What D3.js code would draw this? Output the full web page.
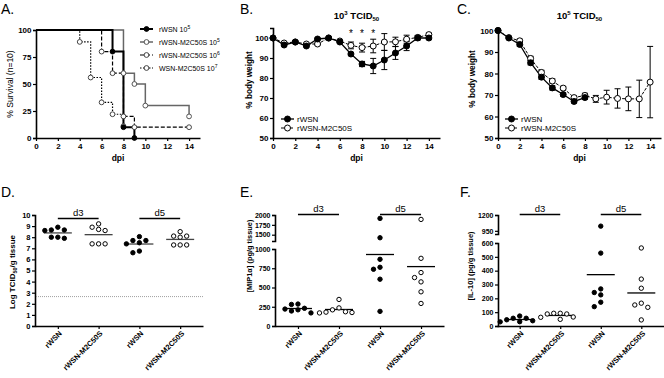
<!DOCTYPE html>
<html><head><meta charset="utf-8">
<script src="https://cdn.jsdelivr.net/npm/d3@7"></script>
<style>
body{margin:0;background:#fff;}
svg{display:block;font-family:"Liberation Sans",Arial,sans-serif;}
</style></head><body>
<svg id="c" width="664" height="378"></svg>
<script>
// ---------- Panel A: survival ----------
const survDays_rWSN5 = [0, 7, 8, 9];
const surv_rWSN5 = [100, 80, 10, 0];
const survDays_M2_5 = [0, 8, 9, 10, 14];
const surv_M2_5 = [100, 60, 50, 30, 20];
const survDays_M2_6 = [0, 6, 7, 8, 9, 14];
const surv_M2_6 = [100, 80, 60, 20, 10, 10];
const survDays_M2_7 = [0, 4, 5, 6, 7, 8];
const surv_M2_7 = [100, 89, 56, 33, 22, 11];
const survNames = ["rWSN 10", "rWSN-M2C50S 10", "rWSN-M2C50S 10", "WSN-M2C50S 10"];
const survExps = ["5", "5", "6", "7"];
const survYTicks = [0, 25, 50, 75, 100];
const dpiTicks = [0, 2, 4, 6, 8, 10, 12, 14];

// ---------- Panel B: weight 10^3 ----------
const daysB = [0,1,2,3,4,5,6,7,8,9,10,11,12,13,14];
const wB_rWSN = [100, 96.5, 98, 96, 99.5, 100, 98, 92, 87, 86, 89, 92.5, 96, 100, 100];
const eB_rWSN = [0, 0.5, 0.5, 0.5, 0.5, 0, 0.5, 0.8, 1.3, 3.8, 4.8, 3.2, 2.3, 1, 0.8];
const wB_M2 = [100, 97.5, 98, 97, 97, 100, 98.5, 96.3, 95.2, 96, 98, 98.1, 99.4, 100.3, 101.7];
const eB_M2 = [0, 0.5, 0.5, 0.5, 0.5, 0.3, 0.5, 1.7, 2.2, 3.4, 4.2, 2.3, 2, 1, 0.8];
const starDaysB = [7, 8, 9];
const weightTicksB = [50, 60, 70, 80, 90, 100];

// ---------- Panel C: weight 10^5 ----------
const daysC_rWSN = [0,1,2,3,4,5,6,7,8];
const wC_rWSN = [100, 96.5, 93.5, 85, 78.3, 73.3, 70.2, 67, 68.8];
const eC_rWSN = [0, 0.5, 0.8, 1, 1, 1, 0.8, 0.7, 0.8];
const daysC_M2 = [0,1,2,3,4,5,6,7,8,9,10,11,12,13,14];
const wC_M2 = [100, 96.7, 95.2, 87, 80.5, 76.5, 73.2, 68.8, 69.8, 68.2, 69, 68.4, 68.2, 68.2, 76];
const eC_M2 = [0, 0.5, 0.8, 1, 1, 1, 0.8, 0.8, 1, 1.6, 3.2, 4.5, 5.5, 8.7, 16.6];
const weightTicksC = [50, 60, 70, 80, 90, 100];
const legendNames = ["rWSN", "rWSN-M2C50S"];

// ---------- Panels D-F: scatter ----------
const groupLabels = ["rWSN", "rWSN-M2C50S", "rWSN", "rWSN-M2C50S"];
const dayLabels = ["d3", "d5"];

const D_rWSN_d3 = [8.9, 8.65, 8.6, 8.65, 8.0, 7.9, 8.0];
const D_M2_d3 = [9.2, 8.9, 8.6, 8.7, 7.4, 7.4, 7.4];
const D_rWSN_d5 = [8.05, 7.7, 7.5, 7.4, 7.7, 6.6, 6.75];
const D_M2_d5 = [8.5, 8.1, 8.0, 8.1, 7.3, 7.3, 7.3];
const D_limit = 2.65;
const D_ticks = [0,1,2,3,4,5,6,7,8,9,10];

const E_rWSN_d3 = [285, 280, 230, 220, 210, 195, 170];
const E_M2_d3 = [345, 235, 210, 185, 180, 175, 170];
const E_rWSN_d5 = [1914, 1422, 866, 763, 737, 608, 190];
const E_M2_d5 = [1888, 879, 694, 629, 573, 444, 293];
const E_ticksLo = [0, 250, 500, 750, 1000];
const E_ticksHi = [1500, 1750, 2000];

const F_rWSN_d3 = [72, 56, 38, 31, 30, 56, 45];
const F_M2_d3 = [92, 87, 63, 87, 92, 48, 65];
const F_rWSN_d5 = [1024, 527, 268, 242, 225, 172, 140];
const F_M2_d5 = [564, 339, 273, 165, 152, 135, 44];
const F_ticksLo = [0, 100, 200, 300, 400, 500, 600];
const F_ticksHi = [950, 1200];

const FONT = '"Liberation Sans", Arial, sans-serif';
const svg = d3.select('#c');
const fmt = d3.format('d');

function styleAxis(g, fs, bold) {
  g.attr('font-family', FONT).attr('font-size', fs);
  g.selectAll('.domain').attr('stroke', '#000').attr('stroke-width', 1.6);
  g.selectAll('.tick line').attr('stroke', '#000').attr('stroke-width', 1.2);
  g.selectAll('.tick text').attr('fill', '#000').attr('font-weight', bold ? 'bold' : 'normal');
}
function yAxis(scale, x, ticks, fs) {
  const g = svg.append('g').attr('transform', `translate(${x},0)`)
    .call(d3.axisLeft(scale).tickValues(ticks).tickFormat(fmt).tickSize(3).tickPadding(1.5));
  styleAxis(g, fs, true);
  return g;
}
function xAxis(scale, y, ticks, fs) {
  const g = svg.append('g').attr('transform', `translate(0,${y})`)
    .call(d3.axisBottom(scale).tickValues(ticks).tickFormat(fmt).tickSize(3).tickSizeOuter(0).tickPadding(2));
  styleAxis(g, fs, true);
  return g;
}
function panelLetter(t, x, y) {
  svg.append('text').attr('x', x).attr('y', y).attr('font-size', 14).attr('font-family', FONT).text(t);
}
function yLabel(x, y, fs, bold) {
  return svg.append('text').attr('transform', `translate(${x},${y}) rotate(-90)`)
    .attr('text-anchor', 'middle').attr('font-size', fs).attr('font-family', FONT)
    .attr('font-weight', bold ? 'bold' : 'normal');
}
function xLabel(x, y, t) {
  svg.append('text').attr('x', x).attr('y', y).attr('text-anchor', 'middle')
    .attr('font-size', 8.5).attr('font-weight', 'bold').attr('font-family', FONT).text(t);
}

// ===== Panel A =====
{
  const x = d3.scaleLinear().domain([0, 15]).range([36, 200]);
  const y = d3.scaleLinear().domain([0, 100]).range([138, 30]);
  panelLetter('A.', 1, 13.5);
  const series = [
    {d: survDays_rWSN5, v: surv_rWSN5, stroke: '#000', sw: 2, dash: null, fill: '#000', ms: '#000'},
    {d: survDays_M2_5, v: surv_M2_5, stroke: '#666', sw: 1.5, dash: null, fill: '#fff', ms: '#555'},
    {d: survDays_M2_6, v: surv_M2_6, stroke: '#000', sw: 1.2, dash: '4,2', fill: '#fff', ms: '#444'},
    {d: survDays_M2_7, v: surv_M2_7, stroke: '#000', sw: 1.2, dash: '1.5,1.5', fill: '#fff', ms: '#444'}
  ];
  const line = d3.line().x(p => x(p[0])).y(p => y(p[1])).curve(d3.curveStepAfter);
  series.slice().reverse().forEach(s => {
    const pts = s.d.map((dd, i) => [dd, s.v[i]]);
    svg.append('path').attr('d', line(pts)).attr('fill', 'none').attr('stroke', s.stroke)
      .attr('stroke-width', s.sw).attr('stroke-dasharray', s.dash);
  });
  series.slice().reverse().forEach(s => {
    const pts = s.d.map((dd, i) => [dd, s.v[i]]).slice(1);
    svg.selectAll(null).data(pts).enter().append('circle')
      .attr('cx', p => x(p[0])).attr('cy', p => y(p[1])).attr('r', 2.4)
      .attr('fill', s.fill).attr('stroke', s.ms).attr('stroke-width', 1);
  });
  yAxis(y, 36, survYTicks, 8);
  xAxis(x, 138, dpiTicks, 8);
  yLabel(13, 84, 8.5, false).text('% Survival (n=10)');
  xLabel(118, 161, 'dpi');
  series.forEach((s, i) => {
    const ly = 29 + i * 13;
    svg.append('line').attr('x1', 140).attr('x2', 153).attr('y1', ly).attr('y2', ly)
      .attr('stroke', s.stroke).attr('stroke-width', s.sw).attr('stroke-dasharray', s.dash);
    svg.append('circle').attr('cx', 146.5).attr('cy', ly).attr('r', 2.4)
      .attr('fill', s.fill).attr('stroke', s.ms).attr('stroke-width', 1);
    const t = svg.append('text').attr('x', 159).attr('y', ly + 2.5).attr('font-size', 7)
      .attr('font-family', FONT).attr('fill', '#000');
    t.append('tspan').text(survNames[i]);
    t.append('tspan').attr('dy', -3).attr('font-size', 5).text(survExps[i]);
  });
}

// ===== weight panels =====
function weightPanel(o) {
  const x = d3.scaleLinear().domain([0, 15]).range(o.xr);
  const y = d3.scaleLinear().domain(o.yd).range(o.yr);
  panelLetter(o.letter, o.lx, 13.5);
  const cx = (o.xr[0] + o.xr[1]) / 2;
  const t = svg.append('text').attr('x', cx).attr('y', 18.5).attr('text-anchor', 'middle')
    .attr('font-size', 9.5).attr('font-weight', 'bold').attr('font-family', FONT);
  t.append('tspan').text('10');
  t.append('tspan').attr('dy', -4).attr('font-size', 6).text(o.exp);
  t.append('tspan').attr('dy', 4).text(' TCID');
  t.append('tspan').attr('dy', 2).attr('font-size', 6).text('50');

  const sers = [
    {d: o.dM, v: o.vM, e: o.eM, fill: '#fff', dash: '3,1.5', sw: 1},
    {d: o.dR, v: o.vR, e: o.eR, fill: '#000', dash: null, sw: 1.3}
  ];
  sers.forEach(s => {
    const pts = s.d.map((dd, i) => ({d: dd, v: s.v[i], e: s.e[i]}));
    const g = svg.append('g').attr('stroke', '#000').attr('stroke-width', 1);
    pts.forEach(p => {
      if (p.e <= 0) return;
      const xx = x(p.d), y1 = y(p.v - p.e), y2 = y(p.v + p.e);
      g.append('line').attr('x1', xx).attr('x2', xx).attr('y1', y1).attr('y2', y2);
      g.append('line').attr('x1', xx - 3).attr('x2', xx + 3).attr('y1', y1).attr('y2', y1);
      g.append('line').attr('x1', xx - 3).attr('x2', xx + 3).attr('y1', y2).attr('y2', y2);
    });
  });
  sers.forEach(s => {
    const pts = s.d.map((dd, i) => [dd, s.v[i]]);
    svg.append('path').attr('d', d3.line().x(p => x(p[0])).y(p => y(p[1]))(pts))
      .attr('fill', 'none').attr('stroke', '#000').attr('stroke-width', s.sw)
      .attr('stroke-dasharray', s.dash);
  });
  sers.forEach(s => {
    const pts = s.d.map((dd, i) => [dd, s.v[i]]);
    svg.selectAll(null).data(pts).enter().append('circle')
      .attr('cx', p => x(p[0])).attr('cy', p => y(p[1])).attr('r', 3)
      .attr('fill', s.fill).attr('stroke', '#000').attr('stroke-width', 1);
  });
  if (o.stars) {
    svg.selectAll(null).data(o.stars).enter().append('text')
      .attr('x', d => x(d)).attr('y', 37).attr('text-anchor', 'middle')
      .attr('font-size', 10).attr('font-family', FONT).text('*');
  }
  yAxis(y, o.xr[0], o.yt, 8);
  xAxis(x, o.yr[0], dpiTicks, 8);
  yLabel(o.ylx, o.yly, 8.2, true).text('% body weight');
  xLabel(cx, 161, 'dpi');
  const L = [{fill: '#000', dash: null, sw: 1.3}, {fill: '#fff', dash: '3,1.5', sw: 1}];
  L.forEach((s, i) => {
    const ly = 119 + i * 9;
    svg.append('line').attr('x1', o.lgx).attr('x2', o.lgx + 13).attr('y1', ly).attr('y2', ly)
      .attr('stroke', '#000').attr('stroke-width', s.sw).attr('stroke-dasharray', s.dash);
    svg.append('circle').attr('cx', o.lgx + 6.5).attr('cy', ly).attr('r', 3)
      .attr('fill', s.fill).attr('stroke', '#000').attr('stroke-width', 1);
    svg.append('text').attr('x', o.lgx + 16).attr('y', ly + 3).attr('font-size', 8)
      .attr('font-family', FONT).text(legendNames[i]);
  });
}
weightPanel({letter: 'B.', lx: 240, exp: '3', xr: [273, 440], yd: [50, 105], yr: [138, 28],
  yt: weightTicksB, dR: daysB, vR: wB_rWSN, eR: eB_rWSN, dM: daysB, vM: wB_M2, eM: eB_M2,
  stars: starDaysB, ylx: 252, yly: 80, lgx: 281});
weightPanel({letter: 'C.', lx: 457, exp: '5', xr: [498, 661], yd: [50, 100], yr: [138, 30.5],
  yt: weightTicksC, dR: daysC_rWSN, vR: wC_rWSN, eR: eC_rWSN, dM: daysC_M2, vM: wC_M2, eM: eC_M2,
  stars: null, ylx: 475, yly: 79, lgx: 505});

// ===== scatter panels =====
function swarm(vals, yf, cx, r, step) {
  const pts = vals.map(v => ({v, y: yf(v)})).sort((a, b) => a.y - b.y);
  const placed = [];
  for (const p of pts) {
    for (const k of [0, -1, 1, -2, 2, -3, 3]) {
      const xx = cx + k * step;
      if (placed.every(q => Math.hypot(q.x - xx, q.y - p.y) >= 2 * r + 0.8)) { p.x = xx; placed.push(p); break; }
    }
  }
  return placed;
}
function scatterPanel(o) {
  const xs = d3.scalePoint().domain([0, 1, 2, 3]).range(o.xr).padding(0.56);
  panelLetter(o.letter, o.lx, 197);
  o.axes();
  const ax = svg.append('g').attr('transform', 'translate(0,326)')
    .call(d3.axisBottom(xs).tickSize(3).tickSizeOuter(0).tickFormat(i => groupLabels[i]));
  styleAxis(ax, 7.5, true);
  ax.selectAll('.tick text').attr('x', 0).attr('y', 0).attr('dy', 0)
    .attr('transform', 'translate(4,8) rotate(-45)').attr('text-anchor', 'end');
  if (o.limit != null) {
    svg.append('line').attr('x1', o.xr[0] + 1).attr('x2', o.xr[1]).attr('y1', o.yf(o.limit)).attr('y2', o.yf(o.limit))
      .attr('stroke', '#888').attr('stroke-width', 0.8).attr('stroke-dasharray', '1,1');
  }
  [0, 1].forEach(k => {
    const x1 = xs(k * 2), x2 = xs(k * 2 + 1);
    svg.append('line').attr('x1', x1).attr('x2', x2).attr('y1', o.barY).attr('y2', o.barY)
      .attr('stroke', '#000').attr('stroke-width', 1.6);
    svg.append('text').attr('x', (x1 + x2) / 2).attr('y', o.barY - 3).attr('text-anchor', 'middle')
      .attr('font-size', 9.5).attr('font-family', FONT).text(dayLabels[k]);
  });
  o.groups.forEach((vals, gi) => {
    const cx = xs(gi);
    const m = d3.mean(vals);
    svg.append('line').attr('x1', cx - 14).attr('x2', cx + 14).attr('y1', o.yf(m)).attr('y2', o.yf(m))
      .attr('stroke', o.meanColor).attr('stroke-width', 1.3);
    const pts = swarm(vals, o.yf, cx, 2.2, 6.5);
    const filled = gi % 2 === 0;
    svg.selectAll(null).data(pts).enter().append('circle')
      .attr('cx', p => p.x).attr('cy', p => p.y).attr('r', 2.2)
      .attr('fill', filled ? '#000' : '#fff').attr('stroke', '#000').attr('stroke-width', 1);
  });
}

// Panel D
{
  const y = d3.scaleLinear().domain([0, 10]).range([326, 215]);
  scatterPanel({letter: 'D.', lx: 1, xr: [35, 203], yf: y, limit: D_limit, barY: 218.5, meanColor: '#444',
    groups: [D_rWSN_d3, D_M2_d3, D_rWSN_d5, D_M2_d5],
    axes: () => { yAxis(y, 35, D_ticks, 7.5); }});
  const t = yLabel(15, 272, 8, true);
  t.append('tspan').text('Log TCID');
  t.append('tspan').attr('dy', 2).attr('font-size', 5.5).text('50');
  t.append('tspan').attr('dy', -2).text('/g tissue');
}
// Panel E
{
  const yLo = d3.scaleLinear().domain([0, 1000]).range([326, 249]);
  const yHi = d3.scaleLinear().domain([1340, 2000]).range([241, 215]);
  const yf = v => v > 1000 ? yHi(v) : yLo(v);
  scatterPanel({letter: 'E.', lx: 240, xr: [275, 444], yf, limit: null, barY: 214.5, meanColor: '#000',
    groups: [E_rWSN_d3, E_M2_d3, E_rWSN_d5, E_M2_d5],
    axes: () => { yAxis(yLo, 275, E_ticksLo, 7); yAxis(yHi, 275, E_ticksHi, 7); }});
  yLabel(252, 256, 7.4, true).text('[MIP1α] (pg/g tissue)');
}
// Panel F
{
  const yLo = d3.scaleLinear().domain([0, 600]).range([326, 243]);
  const yHi = d3.scaleLinear().domain([900, 1200]).range([234, 215]);
  const yf = v => v > 600 ? yHi(v) : yLo(v);
  scatterPanel({letter: 'F.', lx: 460, xr: [497, 664], yf, limit: null, barY: 214.5, meanColor: '#000',
    groups: [F_rWSN_d3, F_M2_d3, F_rWSN_d5, F_M2_d5],
    axes: () => { yAxis(yLo, 498, F_ticksLo, 7); yAxis(yHi, 498, F_ticksHi, 7); }});
  yLabel(473, 266, 7.5, true).text('[IL-10] (pg/g tissue)');
}
</script>
</body></html>
